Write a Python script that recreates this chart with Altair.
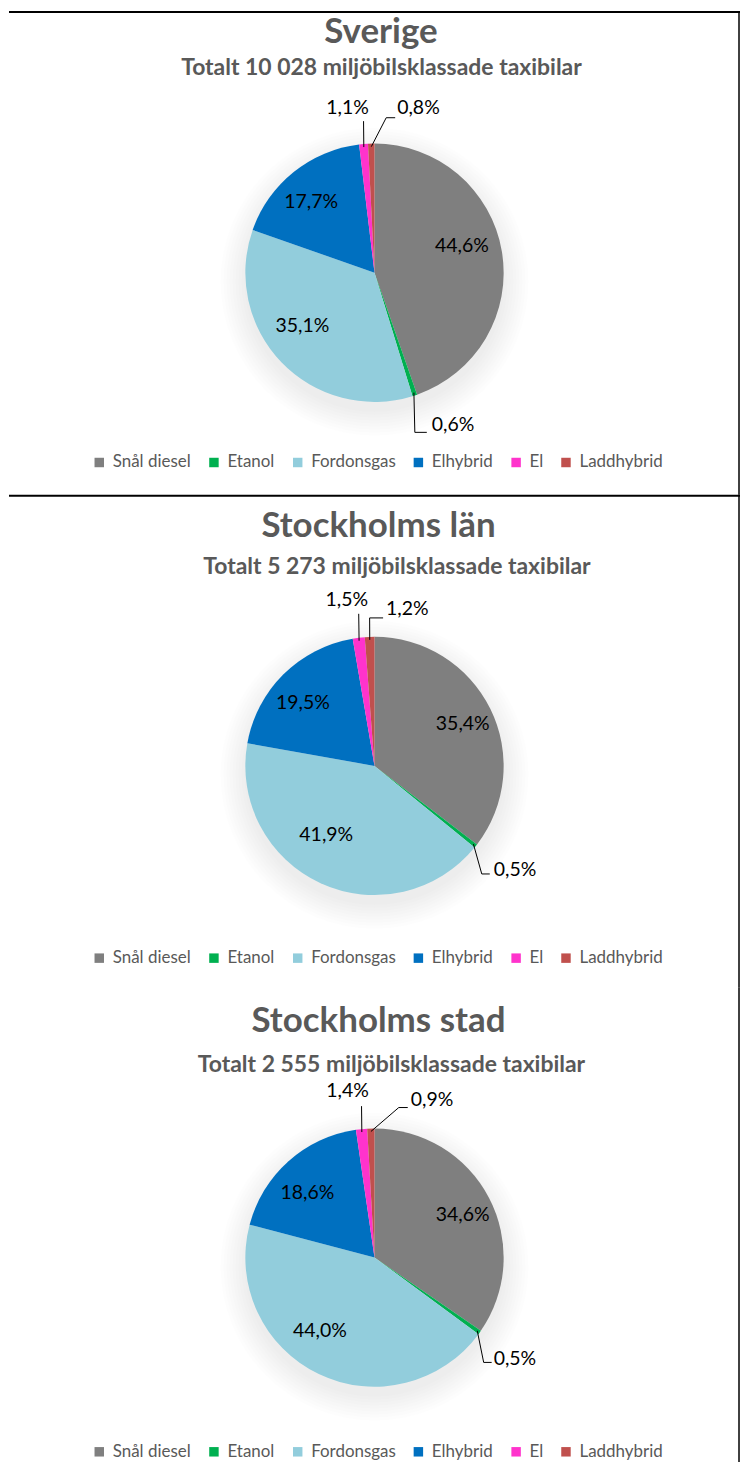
import math
import altair as alt
import pandas as pd

# ---------------- data ----------------
CATEGORIES = ["Snål diesel", "Etanol", "Fordonsgas", "Elhybrid", "El", "Laddhybrid"]
COLORS = ["#7F7F7F", "#00B050", "#92CDDC", "#0070C0", "#FF33CC", "#C0504D"]
REGIONS = ["Sverige", "Stockholms län", "Stockholms stad"]
TOTALS = ["10 028", "5 273", "2 555"]
SVERIGE = [44.6, 0.6, 35.1, 17.7, 1.1, 0.8]
STOCKHOLMS_LAN = [35.4, 0.5, 41.9, 19.5, 1.5, 1.2]
STOCKHOLMS_STAD = [34.6, 0.5, 44.0, 18.6, 1.4, 0.9]
SHARES = [SVERIGE, STOCKHOLMS_LAN, STOCKHOLMS_STAD]

# ---------------- layout / style ----------------
W = 733
PANEL_H = [485, 494, 476]
CX = 366.5
CY = [262.5, 272, 271]
R = 129.5
LABEL_R = 92
TITLE_X = [373, 370.5, 370.5]
SUB_X = [373.5, 389, 383.5]
TITLE_Y = [21, 31, 34]
SUB_Y = [57, 73, 78]
LEGEND_Y = [444, 456, 457]
LEGEND_X = 82
FONT = "Lato"
GREY_TEXT = "#595959"
TXT = -1.5  # small vertical correction for label glyphs

# nudges of the inside labels (Excel "best fit" placement), per panel
INNER_NUDGE = [
    {"Snål diesel": (-3, -10), "Fordonsgas": (-6, -9), "Elhybrid": (-6, 2)},
    {"Snål diesel": (6, 0), "Fordonsgas": (-10, -13), "Elhybrid": (-7, 4)},
    {"Snål diesel": (7, 2), "Fordonsgas": (-15, -8), "Elhybrid": (-6, 5)},
]

# leader line styling per panel: elbow dx/dy, end dx, label dx/dy, align
LEADERS = [
    {"Etanol": (0, 37, 12, 17, 31, "left"),
     "El": (0, -23, 0, -16, -35, "center"),
     "Laddhybrid": (15, -26, 24, 26, -34, "left")},
    {"Etanol": (6, 28, 14, 18, 26, "left"),
     "El": (0, -24, 0, -12, -36, "center"),
     "Laddhybrid": (0, -19, 13.5, 16.5, -26, "left")},
    {"Etanol": (4, 30, 12, 14, 28, "left"),
     "El": (0, -23, 0, -14, -37, "center"),
     "Laddhybrid": (28, -21, 37, 40, -27, "left")},
]


def fmt(v):
    return f"{v:.1f}".replace(".", ",") + "%"


def panel(i):
    vals = SHARES[i]
    cy = CY[i]
    H = PANEL_H[i]
    df = pd.DataFrame({
        "kategori": CATEGORIES,
        "andel": vals,
        "ordning": list(range(len(CATEGORIES))),
        "etikett": [fmt(v) for v in vals],
    })
    head = pd.DataFrame({
        "titel": [REGIONS[i]],
        "undertitel": [f"Totalt {TOTALS[i]} miljöbilsklassade taxibilar"],
    })

    base = alt.Chart(df).transform_joinaggregate(
        total="sum(andel)"
    ).transform_window(
        cum="sum(andel)", sort=[alt.SortField("ordning")], frame=[None, 0]
    ).transform_calculate(
        mid="(datum.cum - datum.andel / 2) / datum.total * 2 * PI"
    ).transform_calculate(
        ex=f"{CX} + {R} * sin(datum.mid)",
        ey=f"{cy} - {R} * cos(datum.mid)",
        lx=f"{CX} + {LABEL_R} * sin(datum.mid)",
        ly=f"{cy} - {LABEL_R} * cos(datum.mid)",
        x0=f"{CX} + {R - 3} * sin(datum.mid)",
        y0=f"{cy} - {R - 3} * cos(datum.mid)",
    )

    layers = []

    # soft shadow
    for k in range(9):
        layers.append(
            alt.Chart(head).mark_arc(
                theta=0, theta2=2 * math.pi, radius=R + 1 + 3 * k,
                color="black", opacity=0.008
            ).encode(x=alt.value(CX), y=alt.value(cy + 9))
        )

    pie = alt.Chart(df).mark_arc(radius=R).encode(
        theta=alt.Theta("andel:Q", stack=True),
        order=alt.Order("ordning:Q"),
        color=alt.Color(
            "kategori:N",
            scale=alt.Scale(domain=CATEGORIES, range=COLORS),
            legend=alt.Legend(
                orient="none", legendX=LEGEND_X, legendY=LEGEND_Y[i],
                direction="horizontal", title=None, symbolType="square",
                symbolSize=90, symbolStrokeWidth=0, labelFont=FONT,
                labelFontSize=17, labelColor=GREY_TEXT, labelOffset=5,
                columnPadding=14, padding=0,
            ),
        ),
        x=alt.value(CX),
        y=alt.value(cy),
    )
    layers.append(pie)

    for cat, (ndx, ndy) in INNER_NUDGE[i].items():
        layers.append(
            base.transform_filter(alt.datum.kategori == cat).transform_calculate(
                px=f"datum.lx + {ndx}", py=f"datum.ly + {ndy + TXT}"
            ).mark_text(
                font=FONT, fontSize=19.5, color="black", baseline="middle",
                align="center"
            ).encode(
                x=alt.X("px:Q", scale=None, axis=None),
                y=alt.Y("py:Q", scale=None, axis=None),
                text="etikett:N",
            )
        )

    for cat, (ebx, eby, enx, ldx, ldy, align) in LEADERS[i].items():
        sub = base.transform_filter(alt.datum.kategori == cat).transform_calculate(
            x1=f"datum.ex + {ebx}",
            y1=f"datum.ey + {eby}",
            x2=f"datum.ex + {enx}",
            tx=f"datum.ex + {ldx}",
            ty=f"datum.ey + {ldy + TXT}",
        )
        layers.append(sub.mark_rule(color="black", strokeWidth=1).encode(
            x=alt.X("x0:Q", scale=None, axis=None),
            y=alt.Y("y0:Q", scale=None, axis=None),
            x2="x1:Q", y2="y1:Q"))
        if enx != ebx:
            layers.append(sub.mark_rule(color="black", strokeWidth=1).encode(
                x=alt.X("x1:Q", scale=None, axis=None),
                y=alt.Y("y1:Q", scale=None, axis=None),
                x2="x2:Q", y2="y1:Q"))
        layers.append(sub.mark_text(
            font=FONT, fontSize=19.5, color="black", baseline="middle", align=align
        ).encode(
            x=alt.X("tx:Q", scale=None, axis=None),
            y=alt.Y("ty:Q", scale=None, axis=None),
            text="etikett:N"))

    hbase = alt.Chart(head)
    layers.append(hbase.mark_text(
        font=FONT, fontSize=35, fontWeight="bold", color=GREY_TEXT,
        baseline="middle", align="center"
    ).encode(x=alt.value(TITLE_X[i]), y=alt.value(TITLE_Y[i]), text="titel:N"))
    layers.append(hbase.mark_text(
        font=FONT, fontSize=23, fontWeight="bold", color=GREY_TEXT,
        baseline="middle", align="center"
    ).encode(x=alt.value(SUB_X[i]), y=alt.value(SUB_Y[i]), text="undertitel:N"))

    # frame lines
    if i in (0, 1):
        layers.append(hbase.mark_rule(color="black", strokeWidth=2).encode(
            x=alt.value(0), x2=alt.value(W), y=alt.value(1)))
    layers.append(hbase.mark_rule(color="black", strokeWidth=1.5).encode(
        x=alt.value(W - 1), y=alt.value(0), y2=alt.value(H)))

    return alt.layer(*layers).properties(width=W, height=H)


chart = alt.vconcat(
    *[panel(i) for i in range(3)], spacing=0, bounds="flush"
).resolve_scale(
    color="independent"
).configure_view(stroke=None).properties(
    padding=0, background="white"
)

chart.save("out.html", embed_options={"renderer": "svg", "actions": False})
